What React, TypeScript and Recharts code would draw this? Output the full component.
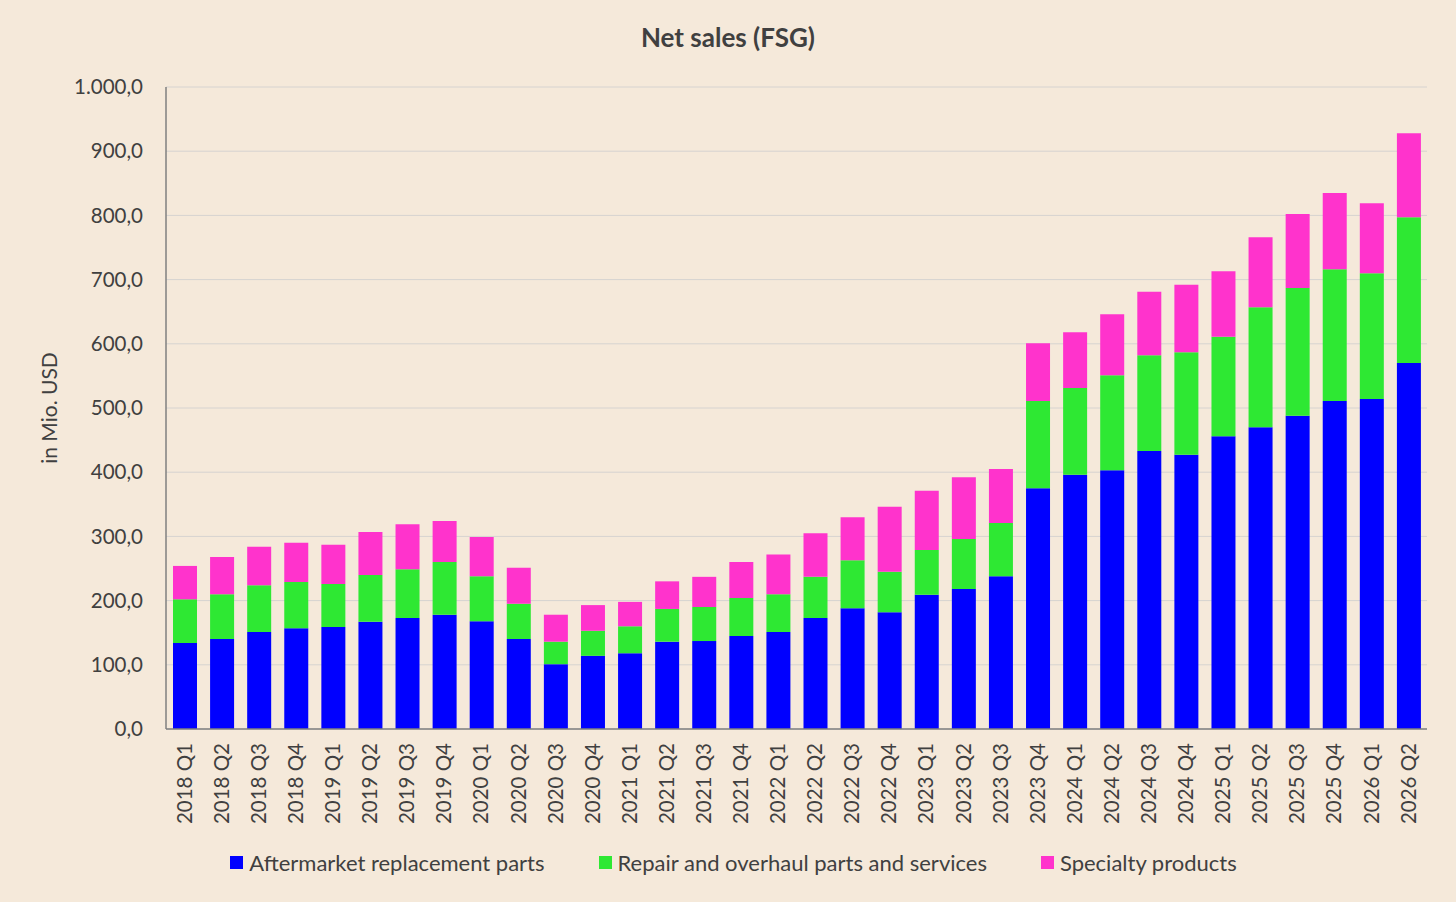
import React from "react";
import { Bar, BarChart, CartesianGrid, Legend, XAxis, YAxis } from "recharts";

const quarters = [
  "2018 Q1", "2018 Q2", "2018 Q3", "2018 Q4",
  "2019 Q1", "2019 Q2", "2019 Q3", "2019 Q4",
  "2020 Q1", "2020 Q2", "2020 Q3", "2020 Q4",
  "2021 Q1", "2021 Q2", "2021 Q3", "2021 Q4",
  "2022 Q1", "2022 Q2", "2022 Q3", "2022 Q4",
  "2023 Q1", "2023 Q2", "2023 Q3", "2023 Q4",
  "2024 Q1", "2024 Q2", "2024 Q3", "2024 Q4",
  "2025 Q1", "2025 Q2", "2025 Q3", "2025 Q4",
  "2026 Q1", "2026 Q2",
];

// segment values, in Mio. USD
const aftermarket = [
  134, 140, 151, 157, 159, 167, 173, 178, 168, 140, 101, 114,
  118, 136, 137, 145, 151, 173, 188, 182, 209, 218, 238, 375,
  396, 403, 433, 427, 456, 470, 488, 511, 514, 570,
];
const repair = [
  68, 70, 73, 72, 67, 73, 76, 82, 70, 55, 35, 39,
  42, 51, 53, 59, 59, 64, 75, 63, 70, 78, 83, 136,
  135, 148, 149, 160, 155, 187, 199, 205, 196, 227,
];
const specialty = [
  52, 58, 60, 61, 61, 67, 70, 64, 61, 56, 42, 40,
  38, 43, 47, 56, 62, 68, 67, 101, 92, 96, 84, 90,
  87, 95, 99, 105, 102, 109, 115, 119, 109, 131,
];

const yTicks = [0, 100, 200, 300, 400, 500, 600, 700, 800, 900, 1000];

const data = quarters.map((q, i) => ({
  q,
  aftermarket: aftermarket[i],
  repair: repair[i],
  specialty: specialty[i],
}));

const FONT = "Lato, 'Open Sans', sans-serif";
const TEXT = "#404040";

const series = [
  { key: "aftermarket", name: "Aftermarket replacement parts", color: "#0000ff" },
  { key: "repair", name: "Repair and overhaul parts and services", color: "#2ee833" },
  { key: "specialty", name: "Specialty products", color: "#ff33cc" },
];

function fmt(v: number) {
  const whole = Math.round(v).toString().replace(/\B(?=(\d{3})+(?!\d))/g, ".");
  return `${whole},0`;
}

function QuarterTick(props: any) {
  const { x, y, payload } = props;
  return (
    <text
      transform={`translate(${x},${y + 6}) rotate(-90)`}
      textAnchor="end"
      dy="0.35em"
      fontSize={20.5}
      fontFamily={FONT}
      fill={TEXT}
    >
      {payload.value}
    </text>
  );
}

function LegendRow() {
  return (
    <div style={{ display: "flex", justifyContent: "center", gap: 54, fontFamily: FONT, fontSize: 22, color: TEXT, marginLeft: 40 }}>
      {series.map((s) => (
        <div key={s.key} style={{ display: "flex", alignItems: "center", gap: 6 }}>
          <span style={{ width: 13, height: 13, background: s.color, display: "inline-block" }} />
          <span>{s.name}</span>
        </div>
      ))}
    </div>
  );
}

export default function App() {
  return (
    <div style={{ position: "absolute", left: 0, top: 0, width: 1456, height: 902, background: "#f5e9da" }}>
      <div
        style={{
          position: "absolute",
          top: 21,
          width: "100%",
          textAlign: "center",
          fontFamily: FONT,
          fontWeight: 700,
          fontSize: 26,
          color: TEXT,
        }}
      >
        Net sales (FSG)
      </div>
      <BarChart
        width={1456}
        height={902}
        data={data}
        margin={{ top: 87, right: 29, left: 0, bottom: 26 }}
        barSize={24}
      >
        <CartesianGrid stroke="#d6d3d0" vertical={false} />
        <XAxis
          dataKey="q"
          height={120}
          interval={0}
          tick={<QuarterTick />}
          tickLine={false}
          axisLine={{ stroke: "#7f7f7f", strokeWidth: 1.5 }}
        />
        <YAxis
          width={166}
          domain={[0, 1000]}
          ticks={yTicks}
          tickFormatter={fmt}
          tickLine={false}
          tickSize={0}
          tickMargin={23}
          axisLine={{ stroke: "#7f7f7f", strokeWidth: 1.5 }}
          tick={{ fontSize: 20.5, fontFamily: FONT, fill: TEXT }}
          label={{
            value: "in Mio. USD",
            angle: -90,
            position: "insideLeft",
            offset: 50,
            style: { fontSize: 21, fontFamily: FONT, fill: TEXT, textAnchor: "middle" },
          }}
        />
        <Legend verticalAlign="bottom" content={<LegendRow />} />
        {series.map((s) => (
          <Bar
            key={s.key}
            dataKey={s.key}
            name={s.name}
            stackId="sales"
            fill={s.color}
            isAnimationActive={false}
          />
        ))}
      </BarChart>
    </div>
  );
}
